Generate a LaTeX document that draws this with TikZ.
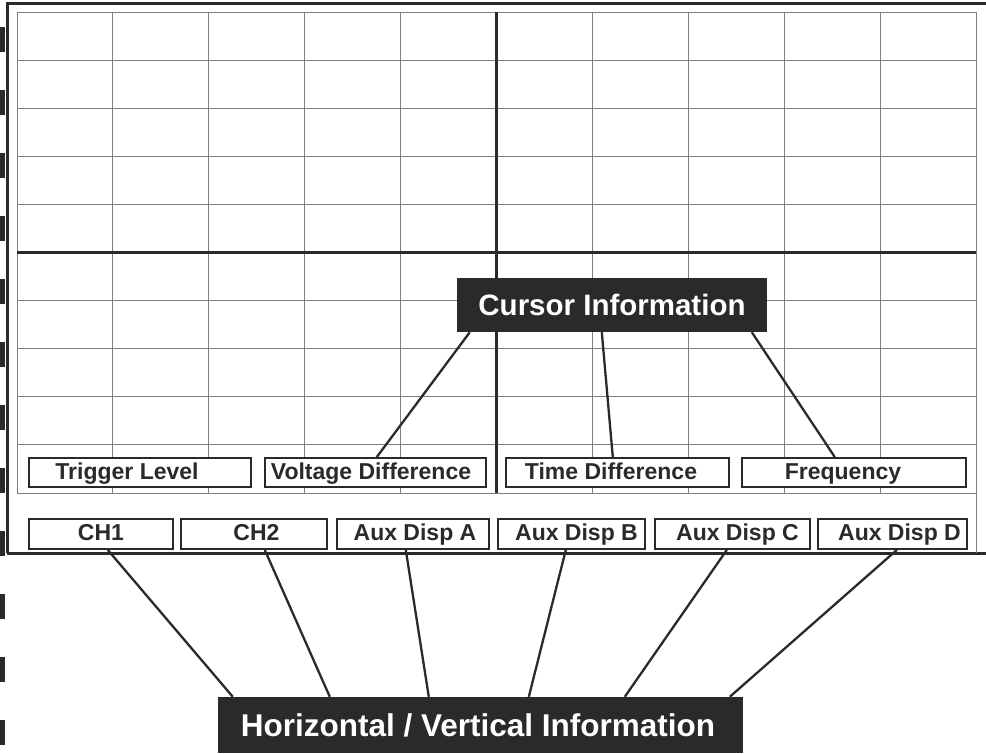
\documentclass[tikz,border=0pt]{standalone}
\usepackage{fontspec}
\setmainfont{Liberation Sans}
\definecolor{ink}{HTML}{2A2A2A}
\definecolor{gridc}{HTML}{7E7E7E}
\begin{document}
\begin{tikzpicture}[x=1pt,y=-1pt,
  lbl/.style={draw=ink, line width=2.4pt, fill=white, text=ink, inner sep=0pt,
    text height=16.5pt, text depth=3.5pt,
    font=\bfseries\fontsize{23}{25}\selectfont},
  row1/.style={lbl, minimum height=28.5pt},
  row2/.style={lbl, minimum height=29.5pt},
  big/.style={fill=ink, text=white, inner sep=0pt},
  conn/.style={draw=ink, line width=2.3pt},
  gridl/.style={draw=gridc, line width=1pt},
  frame/.style={draw=ink, line width=3pt},
  axis/.style={draw=ink, line width=3.6pt}]
\useasboundingbox (0,0) rectangle (986,753);
% left dash marks
\foreach \i in {0,...,11} \fill[ink] (0,{27+63*\i}) rectangle (5,{52+63*\i});
% outer frame
\draw[frame] (7,553) -- (7,3) -- (986,3);
\draw[frame] (7,553) -- (986,553);
% grid
\foreach \i in {0,...,10} \draw[gridl] ({17+95.9*\i},12) -- ({17+95.9*\i},493);
\foreach \j in {0,...,10} \draw[gridl] (17,{12+48.1*\j}) -- (976,{12+48.1*\j});
\draw[gridl] (976,12) -- (976,553);
\draw[axis] (496.5,12) -- (496.5,493);
\draw[axis] (17,252.5) -- (976,252.5);
% row 1 labels
\node[row1, minimum width=222pt] (trig)  at (140,472.5)   {\hspace*{-26pt}Trigger Level};
\node[row1, minimum width=221pt] (volt)  at (375.5,472.5) {\hspace*{-9pt}Voltage Difference};
\node[row1, minimum width=223pt] (timed) at (617.5,472.5) {\hspace*{-13pt}Time Difference};
\node[row1, minimum width=224pt] (freq)  at (854,472.5)   {\hspace*{-22pt}Frequency};
% row 2 labels
\node[row2, minimum width=144pt] (ch1)  at (101,534)   {CH1};
\node[row2, minimum width=146pt] (ch2)  at (254,534)   {\hspace*{5pt}CH2};
\node[row2, minimum width=152pt] (auxa) at (413,534)   {\hspace*{4pt}Aux Disp A};
\node[row2, minimum width=147pt] (auxb) at (571.5,534) {\hspace*{10pt}Aux Disp B};
\node[row2, minimum width=155pt] (auxc) at (732.5,534) {\hspace*{10pt}Aux Disp C};
\node[row2, minimum width=149pt] (auxd) at (892.5,534) {\hspace*{14pt}Aux Disp D};
% dark title boxes
\node[big, minimum width=310pt, minimum height=54pt,
  font=\bfseries\fontsize{29.5}{32}\selectfont] (cur) at (612,305) {Cursor Information};
\node[big, minimum width=525pt, minimum height=56pt,
  font=\bfseries\fontsize{31.5}{34}\selectfont] (hv) at (480.5,725) {\hspace*{-5pt}Horizontal / Vertical Information};
% connectors
\draw[conn] ([xshift=13pt]cur.south west)  -- ([xshift=113pt]volt.north west);
\draw[conn] ([xshift=145pt]cur.south west) -- ([xshift=108pt]timed.north west);
\draw[conn] ([xshift=295pt]cur.south west) -- ([xshift=94pt]freq.north west);
\draw[conn] ([xshift=80pt]ch1.south west)  -- ([xshift=15pt]hv.north west);
\draw[conn] ([xshift=85pt]ch2.south west)  -- ([xshift=112pt]hv.north west);
\draw[conn] ([xshift=70pt]auxa.south west) -- ([xshift=211pt]hv.north west);
\draw[conn] ([xshift=69pt]auxb.south west) -- ([xshift=311pt]hv.north west);
\draw[conn] ([xshift=73pt]auxc.south west) -- ([xshift=407pt]hv.north west);
\draw[conn] ([xshift=80pt]auxd.south west) -- ([xshift=512pt]hv.north west);
\end{tikzpicture}
\end{document}
